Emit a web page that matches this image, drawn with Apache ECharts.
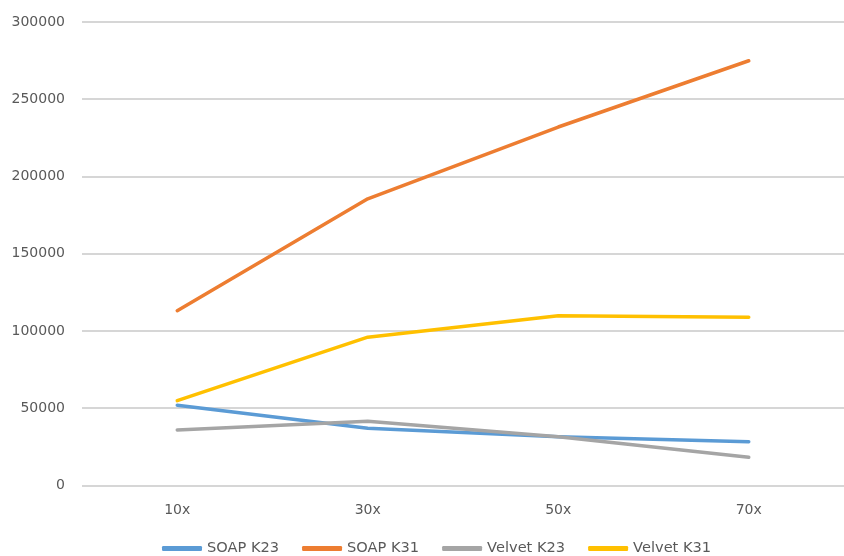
<!DOCTYPE html>
<html><head><meta charset="utf-8">
<script src="https://cdn.jsdelivr.net/npm/echarts@6/dist/echarts.min.js"></script>
<style>html,body{margin:0;padding:0;background:#fff}#c{width:844px;height:556px}</style>
</head><body><div id="c"></div>
<script>
const categories = ['10x', '30x', '50x', '70x'];
const soapK23 = [51800, 36900, 31500, 28200];
const soapK31 = [113100, 185500, 232000, 274900];
const velvetK23 = [35800, 41400, 31500, 18100];
const velvetK31 = [54800, 95900, 109800, 108800];
const yTicks = { min: 0, max: 300000, interval: 50000 };

const font = 'DejaVu Sans';
const txt = '#595959';
function mk(name, data, color) {
  return { name, type: 'line', data, symbol: 'none', lineStyle: { width: 3.5, color, cap: 'round', join: 'round' }, itemStyle: { color } };
}
const chart = echarts.init(document.getElementById('c'));
chart.setOption({
  animation: false,
  grid: { left: 82, top: 22, width: 770, height: 463.3 },
  xAxis: { type: 'category', data: categories, boundaryGap: true,
    axisLine: { show: false }, axisTick: { show: false },
    axisLabel: { color: txt, fontFamily: font, fontSize: 14, margin: 18 } },
  yAxis: { type: 'value', min: yTicks.min, max: yTicks.max, interval: yTicks.interval,
    axisLine: { show: false }, axisTick: { show: false },
    splitLine: { lineStyle: { color: '#c8c8c8', width: 1.5 } },
    axisLabel: { color: txt, fontFamily: font, fontSize: 14, margin: 17, formatter: v => String(v) } },
  legend: { top: 541, left: 162, itemWidth: 40, itemHeight: 5, icon: 'roundRect', itemGap: 23, padding: 0,
    textStyle: { color: txt, fontFamily: font, fontSize: 14.6 } },
  series: [
    mk('SOAP K23', soapK23, '#5B9BD5'),
    mk('SOAP K31', soapK31, '#ED7D31'),
    mk('Velvet K23', velvetK23, '#A5A5A5'),
    mk('Velvet K31', velvetK31, '#FFC000')
  ]
});
</script></body></html>
